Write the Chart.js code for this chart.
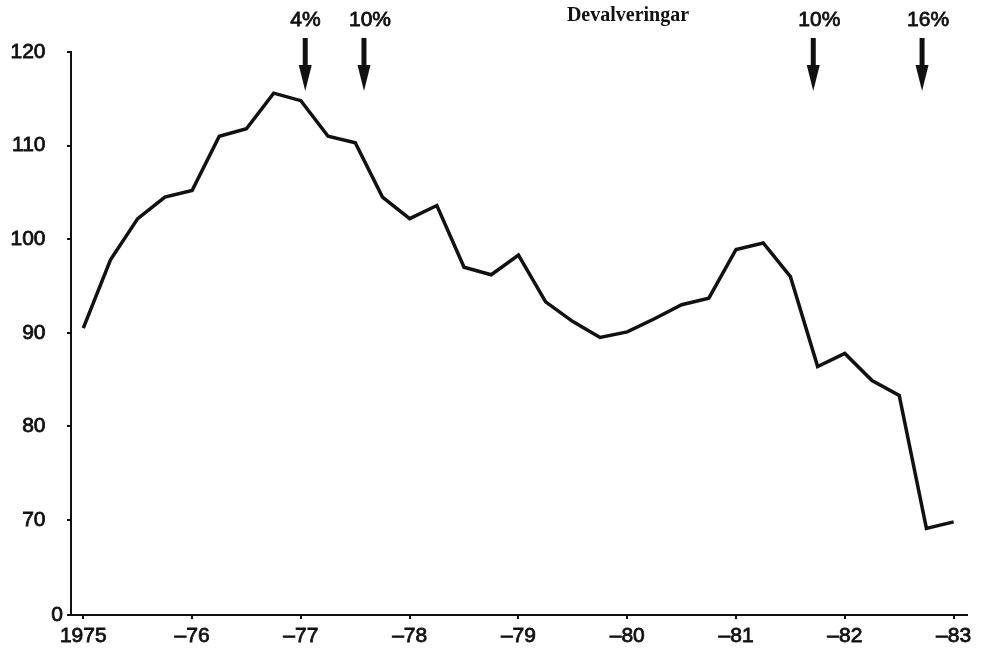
<!DOCTYPE html>
<html>
<head>
<meta charset="utf-8">
<script src="https://cdn.jsdelivr.net/npm/chart.js@4"></script>
<style>
  html, body { margin: 0; padding: 0; background: #fff; }
  canvas { display: block; }
</style>
</head>
<body>
<canvas id="chart" width="987" height="653"></canvas>
<script>
// kvartalsvärden 1975 - 1983
const quarters = [
  1975.00, 1975.25, 1975.50, 1975.75,
  1976.00, 1976.25, 1976.50, 1976.75,
  1977.00, 1977.25, 1977.50, 1977.75,
  1978.00, 1978.25, 1978.50, 1978.75,
  1979.00, 1979.25, 1979.50, 1979.75,
  1980.00, 1980.25, 1980.50, 1980.75,
  1981.00, 1981.25, 1981.50, 1981.75,
  1982.00, 1982.25, 1982.50, 1982.75,
  1983.00
];
const index = [
  90.5, 97.8, 102.2, 104.5,
  105.2, 111.0, 111.8, 115.6,
  114.8, 111.0, 110.3, 104.5,
  102.2, 103.6, 97.0, 96.2,
  98.3, 93.3, 91.2, 89.5,
  90.1, 91.5, 93.0, 93.7,
  98.9, 99.6, 96.0, 86.4,
  87.8, 84.9, 83.3, 69.1,
  69.8
];

const yearTicks = [1975, 1976, 1977, 1978, 1979, 1980, 1981, 1982, 1983];
const yearLabels = ['1975', '–76', '–77', '–78', '–79', '–80', '–81', '–82', '–83'];

// bruten axel: nedersta strecket betecknar 0
const yTicks = [59.85, 70, 80, 90, 100, 110, 120];
const yLabels = ['0', '70   ', '80   ', '90   ', '100   ', '110   ', '120   '];

const devalDates = [1977.04, 1977.58, 1981.71, 1982.71];
const devalLabels = ['4%', '10%', '10%', '16%'];

const ink = '#111';
const sans = '"Liberation Sans", Arial, sans-serif';

const arrows = {
  id: 'arrows',
  afterDraw(chart) {
    const c = chart.ctx;
    const xs = chart.scales.x;
    c.save();
    c.fillStyle = ink;
    c.strokeStyle = ink;
    c.font = '21px ' + sans;
    c.textBaseline = 'alphabetic';
    devalDates.forEach((d, i) => {
      const px = xs.getPixelForValue(d);
      c.lineWidth = 5;
      c.beginPath();
      c.moveTo(px, 38);
      c.lineTo(px, 68);
      c.stroke();
      c.beginPath();
      c.moveTo(px - 6.5, 65);
      c.lineTo(px + 6.5, 65);
      c.lineTo(px, 91);
      c.closePath();
      c.fill();
      c.textAlign = 'left';
      c.lineWidth = 0.8;
      c.fillText(devalLabels[i], px - 15, 26);
      c.strokeText(devalLabels[i], px - 15, 26);
    });
    c.font = 'bold 20px "Liberation Serif", "Times New Roman", serif';
    c.textAlign = 'center';
    c.fillText('Devalveringar', 628, 21);
    c.restore();
  }
};

new Chart(document.getElementById('chart'), {
  type: 'line',
  data: {
    datasets: [{
      data: quarters.map((q, i) => ({ x: q, y: index[i] })),
      borderColor: ink,
      borderWidth: 3.5,
      borderJoinStyle: 'miter',
      pointRadius: 0,
      tension: 0,
      fill: false
    }]
  },
  options: {
    responsive: false,
    animation: false,
    layout: { padding: { left: 0, top: 52, right: 20, bottom: 0 } },
    plugins: {
      legend: { display: false },
      tooltip: { enabled: false }
    },
    scales: {
      x: {
        type: 'linear',
        min: 1974.887,
        max: 1983.123,
        afterBuildTicks: s => { s.ticks = yearTicks.map(v => ({ value: v })); },
        afterFit: s => { s.height = 38; },
        ticks: {
          color: ink,
          font: { family: sans, size: 21 },
          textStrokeColor: ink,
          textStrokeWidth: 0.8,
          padding: 5,
          maxRotation: 0,
          autoSkip: false,
          callback: (v) => yearLabels[yearTicks.indexOf(v)]
        },
        grid: { drawOnChartArea: false, drawTicks: true, tickLength: 4, color: ink, lineWidth: 2 },
        border: { display: true, color: ink, width: 2 }
      },
      y: {
        min: 59.85,
        max: 120,
        afterBuildTicks: s => { s.ticks = yTicks.map(v => ({ value: v })); },
        afterFit: s => { s.width = 71; },
        ticks: {
          color: ink,
          font: { family: sans, size: 21 },
          textStrokeColor: ink,
          textStrokeWidth: 0.8,
          padding: 4,
          autoSkip: false,
          callback: (v) => yLabels[yTicks.indexOf(v)]
        },
        grid: { drawOnChartArea: false, drawTicks: true, tickLength: 4, color: ink, lineWidth: 2 },
        border: { display: true, color: ink, width: 2 }
      }
    }
  },
  plugins: [arrows]
});
</script>
</body>
</html>
